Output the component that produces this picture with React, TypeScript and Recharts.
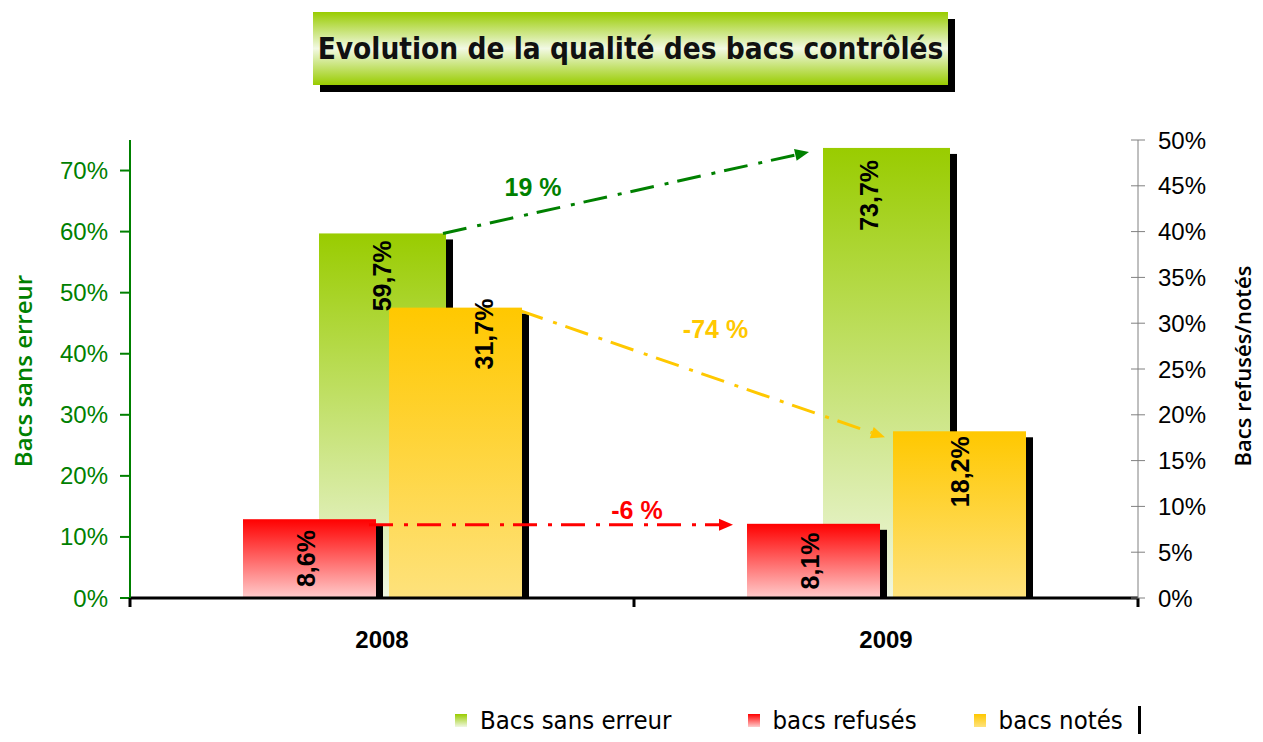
import { BarChart, Bar, XAxis, YAxis, LabelList, ReferenceLine } from 'recharts'

const years = ['2008', '2009']
const sansErreur = [59.7, 73.7]
const refuses = [8.6, 8.1]
const notes = [31.7, 18.2]
const leftTicks = [0, 10, 20, 30, 40, 50, 60, 70]
const rightTicks = [0, 5, 10, 15, 20, 25, 30, 35, 40, 45, 50]
const evolutions = ['19 %', '-74 %', '-6 %']

const data = years.map((year, i) => ({
  year,
  sansErreur: sansErreur[i],
  refuses: refuses[i],
  notes: notes[i],
}))

const GREEN = '#008000'
const ARIAL = '"Liberation Sans", Arial, sans-serif'
const TAHOMA = '"DejaVu Sans Condensed", "DejaVu Sans", sans-serif'

const pct = (v: number) => `${v}%`
const fr = (v: number) => `${v.toFixed(1).replace('.', ',')}%`

const shadowBar = (fill: string) => (props: any) => {
  const { x, y, width, height } = props
  if (!height || height <= 0) return <g />
  return (
    <g>
      <rect x={x + 7} y={y + 6} width={width} height={Math.max(0, height - 6)} fill='#000' />
      <rect x={x} y={y} width={width} height={height} fill={fill} />
    </g>
  )
}

// rotated value label, either hanging from the bar top or centred in the bar
const valueLabel = (mode: 'top' | 'middle', dxs: number[], dys: number[]) => (props: any) => {
  const vb = props.viewBox ?? props
  const { x, y, width, height } = vb
  const i = props.index ?? 0
  const cx = x + width / 2 + (dxs[i] ?? 0)
  const cy = mode === 'top' ? y + (dys[i] ?? 0) : y + height / 2
  return (
    <text
      x={cx}
      y={cy}
      transform={`rotate(-90, ${cx}, ${cy})`}
      textAnchor={mode === 'top' ? 'end' : 'middle'}
      dy='0.36em'
      fontFamily={ARIAL}
      fontWeight='bold'
      fontSize={25}
      fill='#000'
    >
      {fr(props.value)}
    </text>
  )
}

const arrow = (color: string, label: string, o: any) => (props: any) => {
  const x1 = props.x1 + o.dx1
  const y1 = props.y1 + o.dy1
  const x2 = props.x2 + o.dx2
  const y2 = props.y2 + o.dy2
  const a = Math.atan2(y2 - y1, x2 - x1)
  const c = Math.cos(a)
  const s = Math.sin(a)
  const bx = x2 - 14 * c
  const by = y2 - 14 * s
  return (
    <g>
      <line x1={x1} y1={y1} x2={bx} y2={by} stroke={color} strokeWidth={3} strokeDasharray='24 11 4 9' />
      <polygon points={`${x2},${y2} ${bx - 6 * s},${by + 6 * c} ${bx + 6 * s},${by - 6 * c}`} fill={color} />
      <text
        x={(x1 + x2) / 2 + o.lx}
        y={(y1 + y2) / 2 + o.ly}
        textAnchor='middle'
        dy='0.36em'
        fontFamily={ARIAL}
        fontWeight='bold'
        fontSize={25}
        fill={color}
      >
        {label}
      </text>
    </g>
  )
}

const YearTick = (props: any) => {
  const { x, y, payload, index } = props
  const off = payload?.offset ?? 252
  return (
    <g>
      <line x1={x - off} y1={y} x2={x - off} y2={y + 9} stroke='#000' strokeWidth={3} />
      {index === years.length - 1 && (
        <line x1={x + off} y1={y} x2={x + off} y2={y + 9} stroke='#000' strokeWidth={3} />
      )}
      <text x={x} y={y + 50} textAnchor='middle' fontFamily={ARIAL} fontWeight='bold' fontSize={24} fill='#000'>
        {payload.value}
      </text>
    </g>
  )
}

const RightTick = (props: any) => {
  const { x, y, payload } = props
  const ax = x - 20
  return (
    <g>
      <line x1={ax - 7} y1={y} x2={ax + 7} y2={y} stroke='#808080' strokeWidth={1} />
      <text x={x} y={y} dy='0.36em' textAnchor='start' fontFamily={ARIAL} fontSize={24} fill='#000'>
        {pct(payload.value)}
      </text>
    </g>
  )
}

const series = [
  { name: 'Bacs sans erreur', top: '#99cc00', bottom: '#f0f7e2' },
  { name: 'bacs refusés', top: '#ff0000', bottom: '#ffcccc' },
  { name: 'bacs notés', top: '#ffc800', bottom: '#fee27c' },
]
const legendGaps = [76, 57, 0]

export default function App() {
  return (
    <div style={{ position: 'relative', width: 1247, height: 726 }}>
      <BarChart
        width={1247}
        height={726}
        data={data}
        margin={{ top: 132, right: 37, bottom: 76, left: 42 }}
        barGap={13}
      >
        <defs>
          {series.map((s, i) => (
            <linearGradient key={i} id={`grad${i}`} x1='0' y1='0' x2='0' y2='1'>
              <stop offset='0%' stopColor={s.top} />
              <stop offset='100%' stopColor={s.bottom} />
            </linearGradient>
          ))}
        </defs>
        <XAxis
          xAxisId='a'
          dataKey='year'
          height={60}
          interval={0}
          axisLine={{ stroke: '#000', strokeWidth: 3 }}
          tickLine={false}
          tickSize={0}
          tickMargin={0}
          tick={<YearTick />}
        />
        <XAxis xAxisId='b' dataKey='year' hide />
        <YAxis
          yAxisId='left'
          orientation='left'
          width={80}
          domain={[0, 75]}
          ticks={leftTicks}
          interval={0}
          tickFormatter={pct}
          axisLine={{ stroke: GREEN, strokeWidth: 2 }}
          tickLine={{ stroke: GREEN, strokeWidth: 2 }}
          tickSize={10}
          tickMargin={12}
          tick={{ fill: GREEN, fontSize: 24, fontFamily: ARIAL }}
        />
        <YAxis
          yAxisId='right'
          orientation='right'
          width={80}
          domain={[0, 50]}
          ticks={rightTicks}
          interval={0}
          axisLine={{ stroke: '#808080', strokeWidth: 1 }}
          tickLine={false}
          tickSize={7}
          tickMargin={13}
          tick={<RightTick />}
        />
        <Bar
          xAxisId='a'
          yAxisId='left'
          dataKey='sansErreur'
          name={series[0].name}
          barSize={127}
          shape={shadowBar('url(#grad0)')}
          isAnimationActive={false}
        >
          <LabelList dataKey='sansErreur' content={valueLabel('top', [0, -17], [7, 12])} />
        </Bar>
        <Bar
          xAxisId='b'
          yAxisId='right'
          dataKey='refuses'
          name={series[1].name}
          barSize={133}
          shape={shadowBar('url(#grad1)')}
          isAnimationActive={false}
        >
          <LabelList dataKey='refuses' content={valueLabel('middle', [-3, -3], [0, 0])} />
        </Bar>
        <Bar
          xAxisId='b'
          yAxisId='right'
          dataKey='notes'
          name={series[2].name}
          barSize={133}
          shape={shadowBar('url(#grad2)')}
          isAnimationActive={false}
        >
          <LabelList dataKey='notes' content={valueLabel('top', [29, 1], [-9, 5])} />
        </Bar>
        <ReferenceLine
          xAxisId='a'
          yAxisId='left'
          ifOverflow='visible'
          segment={[{ x: years[0], y: sansErreur[0] }, { x: years[1], y: sansErreur[1] }]}
          shape={arrow(GREEN, evolutions[0], { dx1: 61, dy1: 0, dx2: -77, dy2: 4, lx: -93, ly: -6 })}
        />
        <ReferenceLine
          xAxisId='a'
          yAxisId='right'
          ifOverflow='visible'
          segment={[{ x: years[0], y: notes[0] }, { x: years[1], y: notes[1] }]}
          shape={arrow('#ffc800', evolutions[1], { dx1: 138, dy1: 3, dx2: -1, dy2: 6, lx: 13, ly: -45 })}
        />
        <ReferenceLine
          xAxisId='a'
          yAxisId='right'
          ifOverflow='visible'
          segment={[{ x: years[0], y: refuses[1] }, { x: years[1], y: refuses[1] }]}
          shape={arrow('#ff0000', evolutions[2], { dx1: -13, dy1: 1, dx2: -153, dy2: 1, lx: 86, ly: -15 })}
        />
      </BarChart>

      <div
        style={{
          position: 'absolute',
          left: 305,
          top: 4,
          width: 635,
          height: 73,
          background: 'linear-gradient(to bottom, #99cc00 0%, #f2f9e4 50%, #99cc00 100%)',
          boxShadow: '7px 7px 0 #000',
          display: 'flex',
          alignItems: 'center',
          justifyContent: 'center',
          fontFamily: TAHOMA,
          fontWeight: 'bold',
          fontSize: 29.5,
          color: '#111',
          whiteSpace: 'nowrap',
        }}
      >
        Evolution de la qualité des bacs contrôlés
      </div>

      <div
        style={{
          position: 'absolute',
          left: 14,
          top: 363,
          transform: 'translate(-50%, -50%) rotate(-90deg)',
          whiteSpace: 'nowrap',
          fontFamily: '"Open Sans", sans-serif',
          fontWeight: 600,
          fontSize: 24,
          color: GREEN,
        }}
      >
        Bacs sans erreur
      </div>
      <div
        style={{
          position: 'absolute',
          left: 1234,
          top: 358,
          transform: 'translate(-50%, -50%) rotate(-90deg)',
          whiteSpace: 'nowrap',
          fontFamily: '"Open Sans", sans-serif',
          fontWeight: 600,
          fontSize: 22,
          color: '#000',
        }}
      >
        Bacs refusés/notés
      </div>

      <div
        style={{
          position: 'absolute',
          left: 447,
          top: 697,
          height: 30,
          display: 'flex',
          alignItems: 'center',
          fontFamily: TAHOMA,
          fontSize: 25.5,
          color: '#000',
        }}
      >
        {series.map((s, i) => (
          <div key={s.name} style={{ display: 'flex', alignItems: 'center', gap: 13, marginRight: legendGaps[i] }}>
            <div
              style={{
                width: 12,
                height: 13,
                background: `linear-gradient(to bottom, ${s.top}, ${s.bottom})`,
              }}
            />
            <span>{s.name}</span>
          </div>
        ))}
      </div>
      <div style={{ position: 'absolute', left: 1130, top: 698, width: 3, height: 34, background: '#000' }} />
    </div>
  )
}
